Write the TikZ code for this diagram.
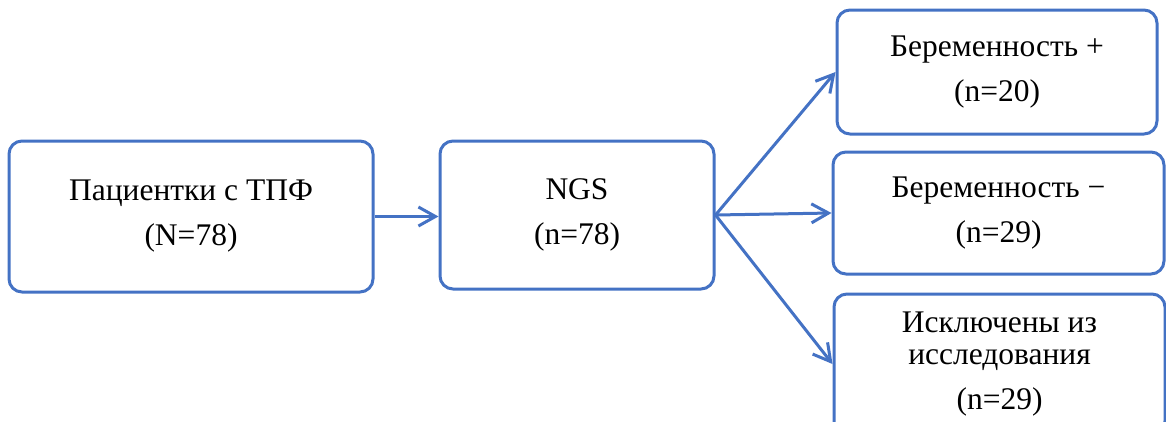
\documentclass[tikz,border=0pt]{standalone}
\usepackage{fontspec}
\setmainfont{Liberation Serif}
\usetikzlibrary{arrows.meta}
\definecolor{boxblue}{HTML}{4472C4}

\tikzset{
  box/.style={draw=boxblue, line width=3pt, rounded corners=13pt,
    align=center, inner sep=0pt, font=\fontsize{31.5}{45}\selectfont},
  link/.style={boxblue, line width=3pt,
    -{Straight Barb[length=17pt, width=19pt, line width=3pt]}},
}

\begin{document}
\begin{tikzpicture}[x=1pt, y=-1pt]
  % canvas, box at the bottom is cut off
  \clip (0,0) rectangle (1166,421);

  % source boxes
  \node[box, minimum width=364pt, minimum height=151pt] (patients) at (191,216.5)
    {Пациентки с ТПФ\\(N=78)};
  \node[box, minimum width=274pt, minimum height=148pt] (ngs) at (577,215)
    {NGS\\(n=78)};

  % outcome boxes
  \node[box, minimum width=320pt, minimum height=124pt] (pregyes) at (997,72)
    {Беременность +\\(n=20)};
  \node[box, minimum width=331pt, minimum height=122pt] (pregno) at (998.5,213)
    {Беременность −\\(n=29)};
  \node[box, minimum width=331pt, minimum height=140pt] (excluded) at (999.5,364)
    {Исключены из\\[-13pt]исследования\\(n=29)};

  % connectors
  \draw[link] (patients.east) -- (patients.east -| ngs.west);
  \draw[link] (ngs.east) -- (pregyes.west);
  \draw[link] (ngs.east) -- (pregno.west);
  \draw[link] (ngs.east) -- (excluded.west);
\end{tikzpicture}
\end{document}
